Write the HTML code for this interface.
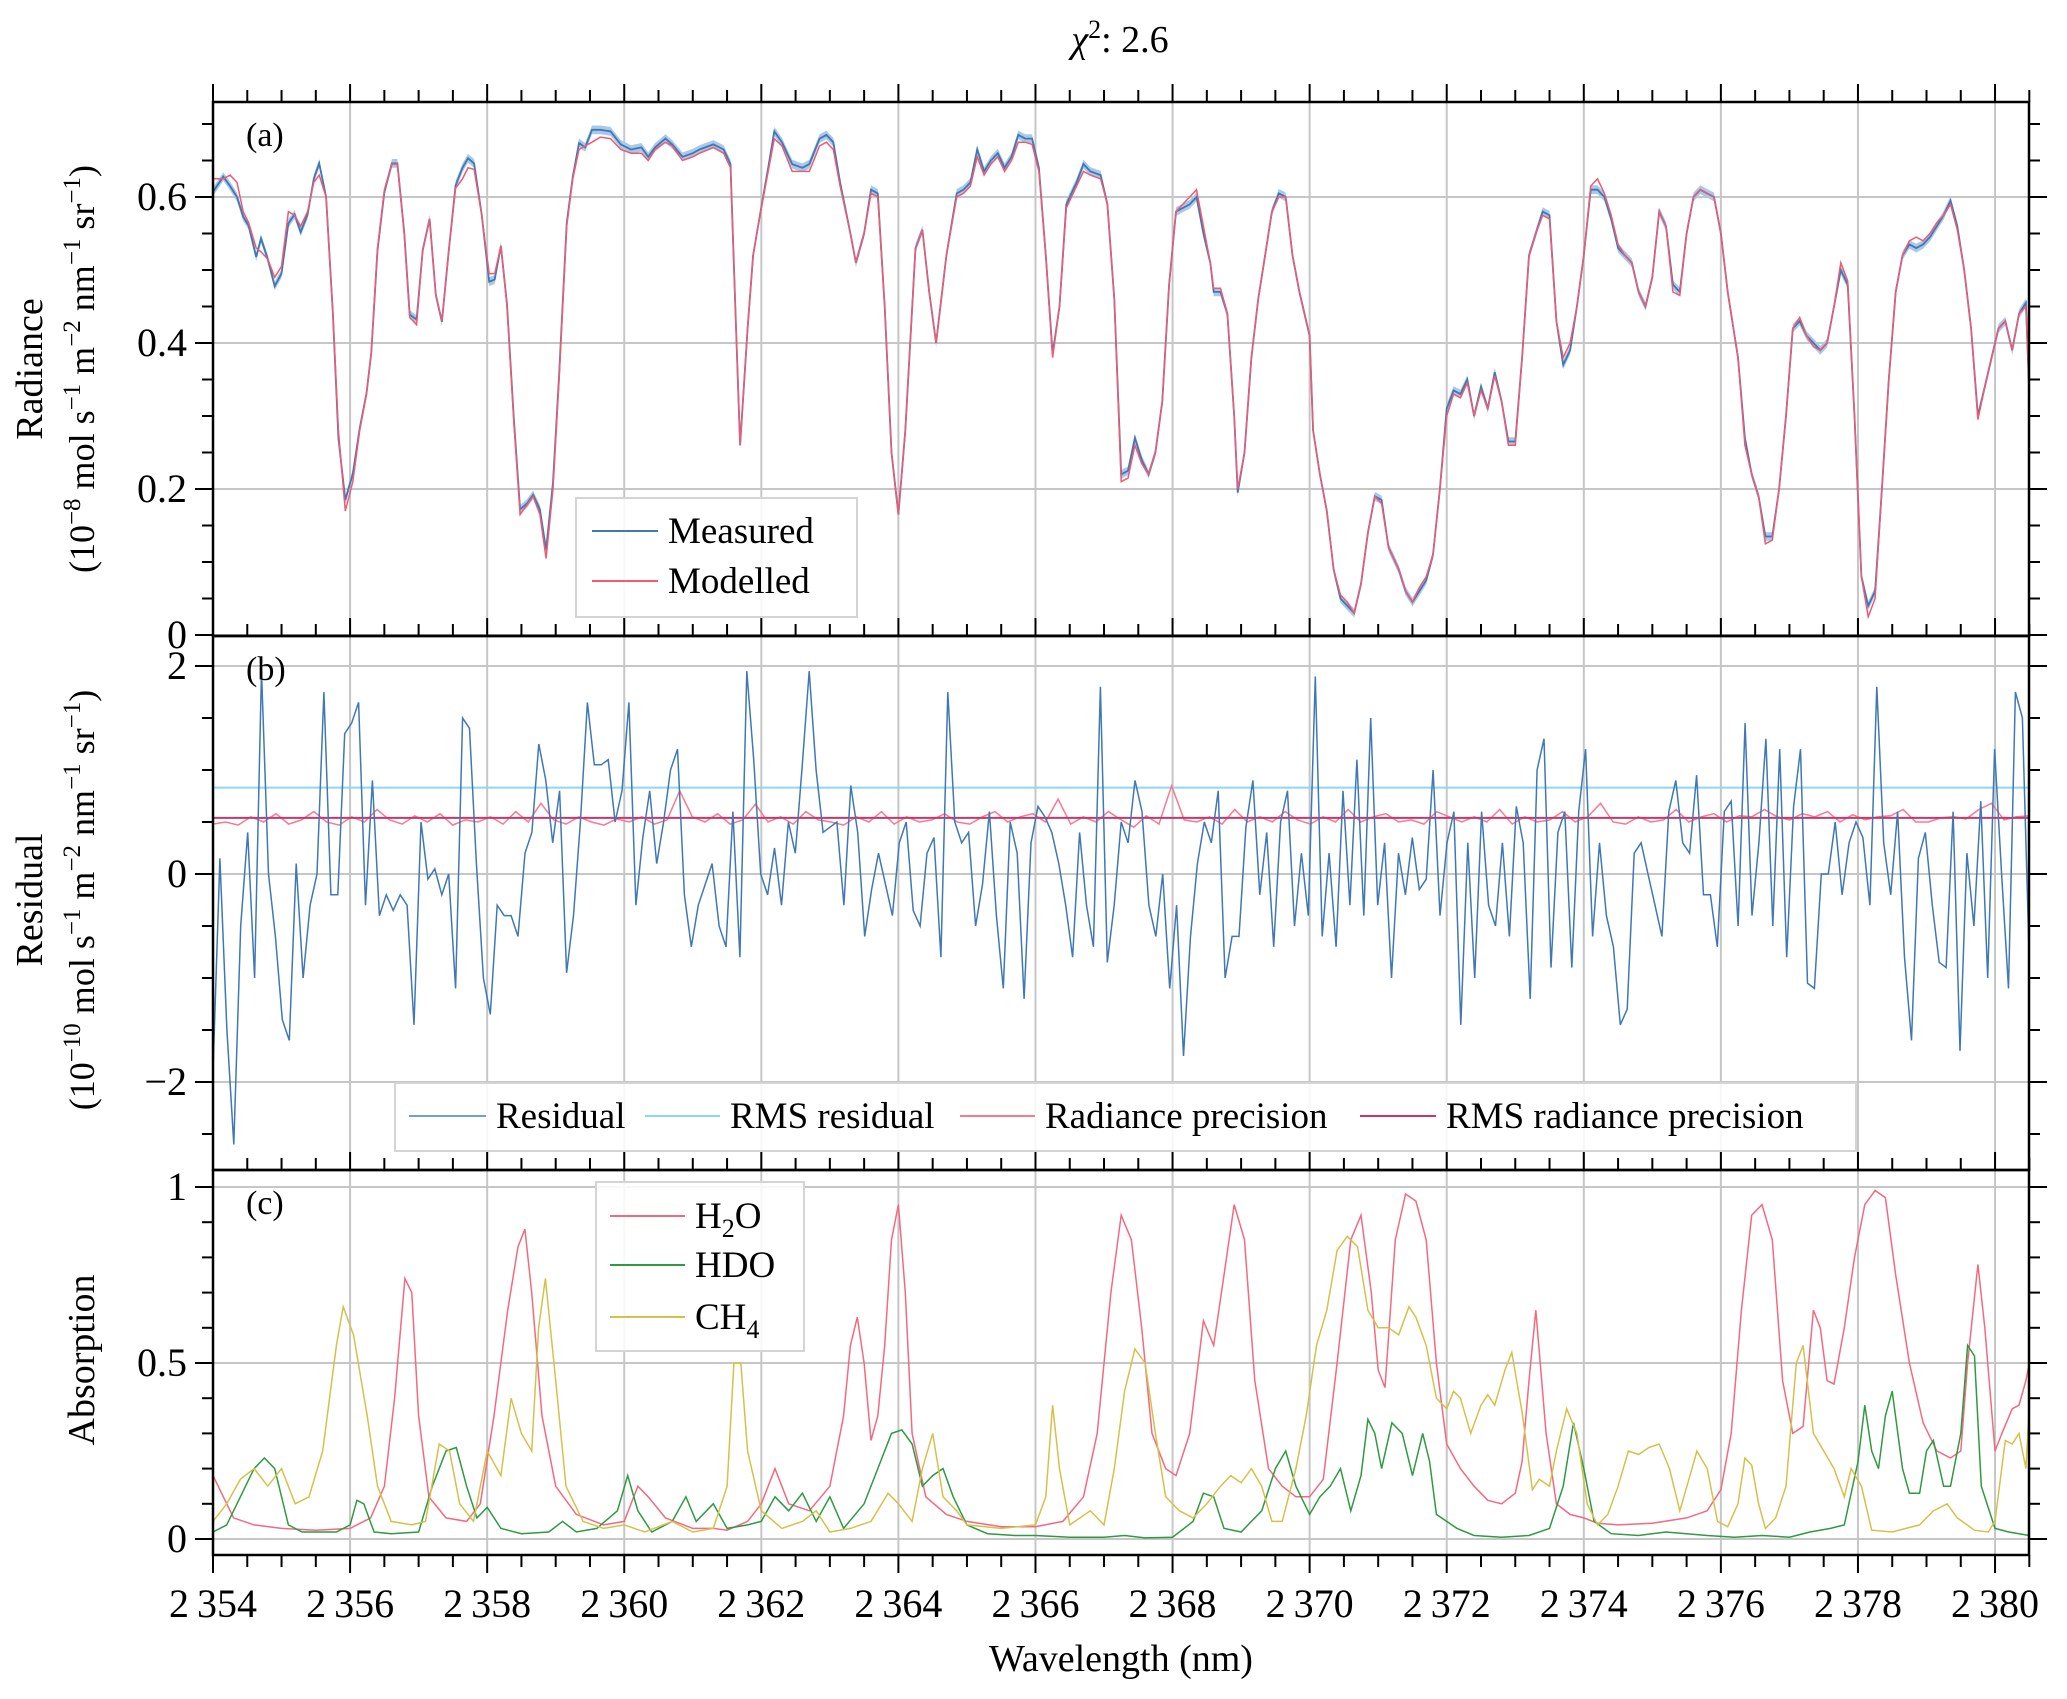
<!DOCTYPE html>
<html><head><meta charset="utf-8"><style>
html,body{margin:0;padding:0;background:#fff;}
svg{display:block;font-family:"Liberation Serif",serif;}
</style></head><body>
<svg id="chart" width="2067" height="1699" viewBox="0 0 2067 1699" xmlns="http://www.w3.org/2000/svg">
<g id="grid"></g>
<g id="series"></g>
<g id="axes"></g>
<g id="legends"></g>
<text x="1120" y="52" text-anchor="middle" font-size="38"><tspan font-style="italic">χ</tspan><tspan dy="-14" font-size="26">2</tspan><tspan dy="14">: 2.6</tspan></text>
<text text-anchor="middle" font-size="38" transform="translate(42,369) rotate(-90)">Radiance</text>
<text text-anchor="middle" font-size="36" transform="translate(94,369) rotate(-90)">(10<tspan dy="-14" font-size="25">−8</tspan><tspan dy="14"> mol s</tspan><tspan dy="-14" font-size="25">−1</tspan><tspan dy="14"> m</tspan><tspan dy="-14" font-size="25">−2</tspan><tspan dy="14"> nm</tspan><tspan dy="-14" font-size="25">−1</tspan><tspan dy="14"> sr</tspan><tspan dy="-14" font-size="25">−1</tspan><tspan dy="14">)</tspan></text>
<text text-anchor="middle" font-size="38" transform="translate(42,900) rotate(-90)">Residual</text>
<text text-anchor="middle" font-size="36" transform="translate(94,900) rotate(-90)">(10<tspan dy="-14" font-size="25">−10</tspan><tspan dy="14"> mol s</tspan><tspan dy="-14" font-size="25">−1</tspan><tspan dy="14"> m</tspan><tspan dy="-14" font-size="25">−2</tspan><tspan dy="14"> nm</tspan><tspan dy="-14" font-size="25">−1</tspan><tspan dy="14"> sr</tspan><tspan dy="-14" font-size="25">−1</tspan><tspan dy="14">)</tspan></text>
<text text-anchor="middle" font-size="38" transform="translate(94,1360) rotate(-90)">Absorption</text>
<text x="1121" y="1671" text-anchor="middle" font-size="38">Wavelength (nm)</text>
<text x="246" y="146" font-size="34">(a)</text>
<text x="246" y="680" font-size="34">(b)</text>
<text x="246" y="1214" font-size="34">(c)</text>
</svg>
<script>
// ---------- data ----------
const wlRad = [2354.0,2354.15,2354.25,2354.35,2354.44,2354.52,2354.63,2354.70,2354.80,2354.90,2355.0,2355.10,2355.19,2355.28,2355.38,2355.47,2355.55,2355.65,2355.75,2355.83,2355.93,2356.04,2356.14,2356.24,2356.31,2356.40,2356.50,2356.61,2356.69,2356.79,2356.87,2356.97,2357.06,2357.16,2357.25,2357.34,2357.44,2357.54,2357.64,2357.72,2357.81,2357.92,2358.03,2358.11,2358.20,2358.29,2358.39,2358.48,2358.58,2358.67,2358.77,2358.86,2358.96,2359.05,2359.16,2359.25,2359.34,2359.43,2359.53,2359.65,2359.8,2359.95,2360.1,2360.25,2360.35,2360.45,2360.6,2360.7,2360.85,2361.0,2361.1,2361.3,2361.45,2361.55,2361.62,2361.69,2361.8,2361.88,2361.97,2362.1,2362.19,2362.3,2362.45,2362.6,2362.7,2362.85,2362.95,2363.05,2363.15,2363.3,2363.38,2363.5,2363.6,2363.7,2363.8,2363.9,2364.0,2364.1,2364.25,2364.35,2364.45,2364.55,2364.7,2364.85,2364.95,2365.05,2365.15,2365.25,2365.35,2365.45,2365.55,2365.65,2365.75,2365.85,2365.95,2366.05,2366.15,2366.25,2366.35,2366.45,2366.6,2366.7,2366.8,2366.95,2367.05,2367.15,2367.25,2367.35,2367.45,2367.55,2367.65,2367.75,2367.85,2367.95,2368.05,2368.15,2368.25,2368.35,2368.45,2368.55,2368.6,2368.7,2368.8,2368.9,2368.95,2369.05,2369.15,2369.25,2369.35,2369.45,2369.55,2369.65,2369.75,2369.85,2370.0,2370.05,2370.15,2370.25,2370.35,2370.45,2370.55,2370.65,2370.75,2370.85,2370.95,2371.05,2371.15,2371.3,2371.4,2371.5,2371.6,2371.7,2371.8,2371.9,2372.0,2372.1,2372.2,2372.3,2372.4,2372.5,2372.6,2372.7,2372.8,2372.9,2373.0,2373.1,2373.2,2373.3,2373.4,2373.5,2373.6,2373.7,2373.8,2373.9,2374.0,2374.1,2374.2,2374.3,2374.4,2374.5,2374.6,2374.7,2374.8,2374.9,2375.0,2375.1,2375.2,2375.3,2375.4,2375.5,2375.6,2375.7,2375.8,2375.9,2376.0,2376.1,2376.25,2376.35,2376.45,2376.55,2376.65,2376.75,2376.85,2376.95,2377.05,2377.15,2377.25,2377.35,2377.45,2377.55,2377.65,2377.75,2377.85,2377.95,2378.05,2378.15,2378.25,2378.35,2378.45,2378.55,2378.65,2378.75,2378.85,2378.95,2379.05,2379.15,2379.25,2379.35,2379.45,2379.55,2379.65,2379.75,2379.85,2379.95,2380.05,2380.15,2380.25,2380.35,2380.45,2380.5];
const radMeasured = [.607,.628,.615,.60,.573,.561,.518,.543,.515,.478,.495,.564,.576,.552,.576,.625,.646,.60,.44,.27,.185,.221,.283,.331,.387,.527,.607,.646,.646,.552,.439,.432,.527,.570,.466,.429,.527,.616,.640,.653,.646,.576,.484,.487,.533,.453,.295,.172,.180,.192,.172,.117,.209,.356,.564,.628,.674,.668,.692,.692,.69,.672,.665,.668,.655,.668,.68,.672,.655,.66,.665,.672,.665,.645,.45,.26,.42,.52,.57,.64,.69,.675,.645,.64,.645,.68,.685,.675,.62,.55,.51,.55,.61,.605,.45,.25,.165,.28,.53,.555,.47,.40,.52,.605,.61,.62,.665,.635,.65,.66,.64,.655,.685,.68,.68,.64,.52,.385,.45,.59,.62,.645,.635,.63,.59,.46,.22,.225,.27,.24,.22,.25,.32,.48,.58,.585,.59,.60,.55,.51,.47,.47,.44,.30,.195,.25,.38,.46,.52,.58,.605,.60,.52,.47,.41,.28,.22,.17,.09,.05,.04,.03,.07,.14,.19,.185,.12,.09,.06,.045,.06,.075,.11,.20,.31,.335,.33,.35,.30,.34,.31,.36,.32,.265,.265,.38,.52,.55,.58,.575,.43,.37,.39,.45,.52,.61,.61,.60,.57,.53,.52,.51,.47,.45,.49,.58,.56,.48,.47,.55,.60,.61,.605,.60,.55,.47,.38,.27,.22,.19,.135,.135,.20,.30,.42,.43,.41,.40,.39,.40,.45,.50,.48,.30,.08,.04,.06,.20,.35,.47,.52,.535,.53,.535,.545,.56,.575,.595,.56,.50,.42,.30,.34,.38,.42,.43,.39,.44,.455,.33];
const radModelled = [.625,.625,.63,.62,.58,.565,.53,.525,.515,.49,.505,.58,.575,.56,.58,.62,.63,.60,.44,.28,.17,.21,.28,.33,.387,.53,.61,.645,.645,.55,.435,.425,.527,.57,.466,.43,.527,.612,.625,.64,.638,.575,.495,.495,.533,.45,.29,.165,.178,.19,.165,.105,.2,.35,.56,.625,.665,.67,.675,.682,.68,.665,.66,.66,.65,.665,.675,.67,.65,.655,.66,.668,.66,.64,.45,.26,.42,.52,.57,.635,.68,.67,.635,.635,.635,.67,.675,.665,.615,.55,.51,.55,.605,.60,.45,.25,.165,.28,.53,.555,.47,.40,.52,.60,.605,.615,.655,.63,.645,.655,.635,.65,.675,.675,.672,.635,.52,.38,.45,.585,.615,.635,.63,.625,.59,.46,.21,.215,.26,.235,.22,.25,.32,.48,.58,.59,.60,.61,.56,.51,.475,.475,.44,.30,.2,.25,.38,.46,.52,.58,.60,.60,.52,.47,.41,.28,.22,.17,.09,.055,.045,.03,.07,.14,.19,.18,.12,.09,.06,.045,.065,.08,.11,.20,.30,.33,.325,.345,.30,.335,.31,.355,.32,.26,.26,.38,.52,.55,.575,.57,.43,.38,.40,.45,.52,.615,.625,.605,.575,.535,.52,.51,.47,.45,.49,.58,.56,.47,.465,.55,.60,.61,.605,.60,.55,.47,.38,.26,.22,.19,.125,.13,.20,.30,.42,.435,.41,.395,.39,.40,.45,.51,.485,.30,.08,.025,.05,.20,.35,.47,.52,.54,.545,.54,.55,.565,.575,.59,.555,.50,.42,.295,.34,.38,.42,.43,.39,.44,.45,.33];

const residualStart = 2354.0;
const residualEnd = 2380.5;
const residual = [-1.9,0.15,-1.5,-2.6,-0.5,0.4,-1.0,1.95,0.0,-0.6,-1.4,-1.6,0.1,-1.0,-0.3,0.0,1.75,-0.2,-0.2,1.35,1.45,1.65,-0.3,0.9,-0.4,-0.2,-0.35,-0.2,-0.3,-1.45,0.5,-0.05,0.05,-0.2,0.0,-1.1,1.5,1.4,0.1,-1.0,-1.35,-0.3,-0.4,-0.4,-0.6,0.2,0.4,1.25,0.9,0.3,0.8,-0.95,-0.4,0.5,1.65,1.05,1.05,1.1,0.5,0.8,1.65,-0.3,0.35,0.8,0.1,0.5,1.0,1.2,-0.2,-0.7,-0.3,-0.1,0.1,-0.5,-0.7,0.6,-0.8,1.95,1.1,0.0,-0.2,0.25,-0.3,0.5,0.2,1.05,1.95,1.0,0.4,0.45,0.5,-0.3,0.85,0.4,-0.6,-0.15,0.2,-0.1,-0.4,0.3,0.5,-0.35,-0.5,0.2,0.35,-0.8,1.75,0.5,0.3,0.4,-0.5,-0.1,0.6,-0.4,-1.1,0.5,0.2,-1.2,0.3,0.65,0.55,0.4,0.1,-0.3,-0.8,0.4,-0.3,-0.7,1.8,-0.85,-0.3,0.5,0.3,0.9,0.6,-0.3,-0.6,0.0,-1.1,-0.3,-1.75,-0.6,0.1,0.5,0.3,0.8,-1.0,-0.6,-0.6,0.45,0.9,-0.2,0.4,-0.7,0.5,0.8,-0.5,0.2,-0.4,1.9,-0.6,0.2,-0.7,0.8,-0.3,1.1,-0.4,1.5,-0.3,0.3,-1.0,0.2,-0.2,0.35,-0.15,-0.05,1.0,-0.4,0.3,0.6,-1.45,0.3,-1.0,0.6,-0.3,-0.5,0.3,-0.6,0.65,0.3,-1.2,1.0,1.3,-0.9,0.4,0.6,-0.9,0.6,1.2,-0.6,0.3,-0.4,-0.7,-1.45,-1.3,0.2,0.3,0.0,-0.3,-0.6,0.6,0.9,0.3,0.2,0.95,-0.2,-0.2,-0.7,0.6,0.7,-0.5,1.45,-0.4,0.3,1.3,-0.5,1.2,-0.8,0.65,1.2,-1.05,-1.1,0.0,0.0,0.5,-0.2,0.3,0.5,0.35,-0.3,1.8,0.3,-0.2,0.6,-0.8,-1.6,0.15,0.4,-0.3,-0.85,-0.9,0.6,-1.7,0.2,-0.5,0.7,-1.0,1.2,0.0,-1.1,1.75,1.5,-0.85];
const precision = [0.48,0.5,0.47,0.55,0.5,0.58,0.48,0.52,0.6,0.5,0.47,0.55,0.5,0.62,0.52,0.48,0.56,0.5,0.58,0.47,0.52,0.5,0.55,0.48,0.6,0.5,0.68,0.52,0.48,0.55,0.5,0.47,0.53,0.5,0.55,0.48,0.52,0.8,0.55,0.5,0.58,0.48,0.52,0.67,0.5,0.55,0.48,0.6,0.52,0.5,0.47,0.55,0.5,0.6,0.48,0.55,0.5,0.52,0.58,0.5,0.48,0.55,0.6,0.5,0.55,0.58,0.5,0.72,0.48,0.55,0.5,0.6,0.52,0.45,0.56,0.48,0.85,0.52,0.5,0.55,0.48,0.62,0.5,0.55,0.5,0.6,0.52,0.48,0.55,0.5,0.62,0.5,0.55,0.58,0.5,0.52,0.48,0.6,0.55,0.5,0.55,0.5,0.62,0.48,0.55,0.5,0.52,0.6,0.5,0.55,0.68,0.5,0.48,0.55,0.5,0.52,0.62,0.5,0.55,0.58,0.5,0.56,0.55,0.62,0.55,0.52,0.58,0.55,0.6,0.5,0.57,0.52,0.55,0.56,0.62,0.5,0.5,0.54,0.55,0.53,0.62,0.68,0.52,0.55,0.56];
const rmsResidual = 0.83;
const rmsPrecision = 0.54;

const wlH2O = [2354.0,2354.3,2354.6,2355.0,2355.5,2356.0,2356.3,2356.5,2356.65,2356.8,2356.9,2357.0,2357.15,2357.4,2357.7,2357.9,2358.1,2358.3,2358.45,2358.55,2358.65,2358.8,2359.0,2359.3,2359.7,2360.0,2360.2,2360.35,2360.6,2361.0,2361.3,2361.5,2361.8,2362.0,2362.2,2362.4,2362.7,2363.0,2363.2,2363.3,2363.4,2363.5,2363.6,2363.7,2363.8,2363.9,2364.0,2364.1,2364.2,2364.4,2364.7,2365.0,2365.5,2366.0,2366.4,2366.7,2366.9,2367.1,2367.25,2367.4,2367.55,2367.7,2367.9,2368.05,2368.25,2368.45,2368.6,2368.75,2368.9,2369.05,2369.2,2369.4,2369.6,2369.8,2370.0,2370.2,2370.4,2370.6,2370.75,2370.9,2371.0,2371.1,2371.25,2371.4,2371.55,2371.7,2371.85,2372.0,2372.2,2372.4,2372.6,2372.8,2373.0,2373.1,2373.2,2373.3,2373.45,2373.6,2373.8,2374.0,2374.2,2374.5,2375.0,2375.5,2375.8,2376.0,2376.15,2376.3,2376.45,2376.6,2376.75,2376.9,2377.05,2377.2,2377.35,2377.45,2377.55,2377.65,2377.8,2377.95,2378.1,2378.25,2378.4,2378.55,2378.75,2378.95,2379.15,2379.35,2379.5,2379.6,2379.75,2379.85,2380.0,2380.1,2380.25,2380.35,2380.45,2380.5];
const absH2O = [0.18,0.06,0.04,0.03,0.025,0.03,0.06,0.15,0.4,0.74,0.7,0.35,0.12,0.06,0.05,0.1,0.35,0.65,0.83,0.88,0.7,0.35,0.15,0.07,0.04,0.05,0.15,0.12,0.06,0.03,0.03,0.025,0.05,0.1,0.2,0.1,0.08,0.15,0.35,0.55,0.63,0.5,0.28,0.35,0.55,0.85,0.95,0.7,0.3,0.12,0.07,0.05,0.035,0.035,0.05,0.12,0.3,0.7,0.92,0.85,0.6,0.3,0.2,0.18,0.3,0.62,0.55,0.75,0.95,0.85,0.45,0.2,0.15,0.12,0.12,0.17,0.5,0.85,0.92,0.7,0.48,0.43,0.85,0.98,0.96,0.85,0.5,0.27,0.2,0.15,0.11,0.1,0.13,0.22,0.45,0.65,0.3,0.1,0.07,0.06,0.045,0.04,0.045,0.06,0.08,0.14,0.3,0.65,0.92,0.95,0.85,0.45,0.3,0.32,0.65,0.6,0.45,0.44,0.6,0.8,0.95,0.99,0.97,0.75,0.5,0.33,0.25,0.23,0.25,0.5,0.78,0.6,0.25,0.3,0.37,0.38,0.45,0.5];
const wlHDO = [2354.0,2354.2,2354.4,2354.6,2354.75,2354.9,2355.1,2355.3,2355.6,2355.8,2356.0,2356.1,2356.2,2356.35,2356.6,2357.0,2357.2,2357.4,2357.55,2357.7,2357.85,2358.0,2358.2,2358.5,2358.9,2359.1,2359.3,2359.6,2359.9,2360.05,2360.2,2360.4,2360.7,2360.9,2361.05,2361.3,2361.5,2361.8,2362.0,2362.2,2362.4,2362.6,2362.8,2363.0,2363.2,2363.5,2363.7,2363.9,2364.05,2364.2,2364.35,2364.5,2364.65,2364.8,2365.0,2365.3,2365.7,2366.0,2366.5,2367.0,2367.3,2367.6,2368.0,2368.3,2368.45,2368.6,2368.75,2369.0,2369.3,2369.5,2369.65,2369.8,2370.0,2370.15,2370.3,2370.45,2370.6,2370.75,2370.85,2370.95,2371.05,2371.2,2371.35,2371.5,2371.65,2371.75,2371.85,2372.0,2372.15,2372.4,2372.8,2373.2,2373.5,2373.7,2373.85,2374.0,2374.15,2374.4,2374.8,2375.2,2375.5,2375.8,2376.2,2376.6,2377.0,2377.3,2377.6,2377.8,2378.0,2378.1,2378.2,2378.3,2378.4,2378.5,2378.65,2378.75,2378.9,2379.0,2379.1,2379.25,2379.35,2379.5,2379.6,2379.7,2379.8,2380.0,2380.2,2380.5];
const absHDO = [0.02,0.04,0.12,0.2,0.23,0.2,0.04,0.02,0.02,0.02,0.04,0.11,0.1,0.02,0.015,0.02,0.15,0.25,0.26,0.15,0.06,0.09,0.03,0.015,0.02,0.05,0.02,0.03,0.08,0.18,0.08,0.02,0.05,0.12,0.05,0.1,0.03,0.04,0.05,0.12,0.08,0.13,0.05,0.12,0.03,0.1,0.2,0.3,0.31,0.27,0.15,0.18,0.2,0.12,0.04,0.015,0.01,0.01,0.005,0.005,0.01,0.003,0.005,0.05,0.13,0.12,0.03,0.02,0.08,0.2,0.25,0.15,0.07,0.12,0.15,0.2,0.08,0.18,0.34,0.3,0.2,0.33,0.3,0.18,0.3,0.22,0.07,0.05,0.03,0.01,0.005,0.01,0.03,0.15,0.33,0.2,0.05,0.015,0.01,0.02,0.015,0.01,0.005,0.01,0.005,0.02,0.03,0.04,0.22,0.38,0.25,0.2,0.35,0.42,0.2,0.13,0.13,0.25,0.28,0.15,0.15,0.3,0.55,0.52,0.15,0.03,0.02,0.01];
const wlCH4 = [2354.0,2354.2,2354.4,2354.6,2354.8,2355.0,2355.2,2355.4,2355.6,2355.8,2355.9,2356.05,2356.25,2356.4,2356.6,2356.9,2357.1,2357.3,2357.45,2357.6,2357.8,2358.0,2358.2,2358.35,2358.5,2358.65,2358.75,2358.85,2359.0,2359.15,2359.4,2359.7,2360.0,2360.3,2360.7,2361.0,2361.3,2361.5,2361.6,2361.7,2361.8,2362.0,2362.3,2362.6,2362.8,2363.0,2363.3,2363.6,2363.85,2364.0,2364.2,2364.35,2364.5,2364.65,2364.85,2365.0,2365.5,2366.0,2366.15,2366.25,2366.35,2366.5,2366.8,2367.0,2367.15,2367.3,2367.45,2367.6,2367.75,2367.9,2368.1,2368.3,2368.5,2368.7,2368.85,2369.0,2369.15,2369.3,2369.45,2369.6,2369.8,2369.95,2370.1,2370.25,2370.4,2370.55,2370.7,2370.85,2371.0,2371.15,2371.3,2371.45,2371.55,2371.7,2371.85,2372.0,2372.1,2372.2,2372.35,2372.5,2372.6,2372.7,2372.85,2372.95,2373.1,2373.25,2373.35,2373.5,2373.6,2373.75,2373.9,2374.05,2374.2,2374.35,2374.5,2374.65,2374.8,2374.95,2375.1,2375.25,2375.4,2375.55,2375.65,2375.8,2375.95,2376.1,2376.25,2376.35,2376.45,2376.55,2376.65,2376.8,2376.95,2377.1,2377.2,2377.35,2377.5,2377.65,2377.8,2377.9,2378.05,2378.2,2378.5,2378.7,2378.9,2379.1,2379.3,2379.45,2379.7,2379.9,2380.0,2380.15,2380.25,2380.35,2380.45,2380.5];
const absCH4 = [0.05,0.1,0.17,0.2,0.15,0.2,0.1,0.12,0.25,0.55,0.66,0.58,0.35,0.15,0.05,0.04,0.05,0.27,0.25,0.1,0.05,0.25,0.18,0.4,0.3,0.25,0.6,0.74,0.45,0.15,0.05,0.03,0.04,0.02,0.05,0.02,0.03,0.15,0.5,0.5,0.25,0.08,0.03,0.05,0.08,0.02,0.03,0.05,0.13,0.1,0.05,0.2,0.3,0.12,0.08,0.04,0.03,0.04,0.12,0.38,0.2,0.04,0.08,0.04,0.2,0.42,0.54,0.5,0.3,0.12,0.08,0.06,0.1,0.15,0.18,0.16,0.2,0.15,0.05,0.05,0.2,0.35,0.55,0.65,0.82,0.86,0.83,0.65,0.6,0.6,0.58,0.66,0.63,0.55,0.4,0.37,0.42,0.4,0.3,0.38,0.41,0.38,0.48,0.53,0.36,0.14,0.17,0.15,0.25,0.37,0.3,0.1,0.04,0.07,0.15,0.25,0.24,0.26,0.27,0.2,0.08,0.18,0.25,0.2,0.05,0.035,0.1,0.23,0.21,0.1,0.03,0.06,0.15,0.5,0.55,0.3,0.25,0.2,0.12,0.2,0.15,0.025,0.02,0.03,0.04,0.08,0.1,0.06,0.025,0.02,0.05,0.28,0.27,0.3,0.2,0.38];

const xTicks = [2354,2356,2358,2360,2362,2364,2366,2368,2370,2372,2374,2376,2378,2380];
const xTickLabels = ["2\u2009354","2\u2009356","2\u2009358","2\u2009360","2\u2009362","2\u2009364","2\u2009366","2\u2009368","2\u2009370","2\u2009372","2\u2009374","2\u2009376","2\u2009378","2\u2009380"];
const yTicksA = [0,0.2,0.4,0.6];
const yTickLabelsA = ["0","0.2","0.4","0.6"];
const yTicksB = [-2,0,2];
const yTickLabelsB = ["\u22122","0","2"];
const yTicksC = [0,0.5,1];
const yTickLabelsC = ["0","0.5","1"];

// ---------- layout ----------
const L = 213, R = 2029;
const X = nm => L + (nm - 2354) * 68.54;
const PA = {top:102, bot:636, y:v => 635 - v*730};
const PB = {top:636, bot:1170, y:v => 874 - v*104};
const PC = {top:1170, bot:1555, y:v => 1539 - v*352};
const NS = "http://www.w3.org/2000/svg";
const gGrid = document.getElementById('grid'), gSer = document.getElementById('series'), gAx = document.getElementById('axes'), gLeg = document.getElementById('legends');
function mk(tag, attrs, parent){const e=document.createElementNS(NS,tag);for(const k in attrs)e.setAttribute(k,attrs[k]);parent.appendChild(e);return e;}
function line(x1,y1,x2,y2,stroke,w,parent){return mk('line',{x1,y1,x2,y2,stroke,'stroke-width':w},parent);}
function pathFrom(xs, ys, P){return xs.map((x,i)=>(i?'L':'M')+X(x).toFixed(1)+','+P.y(ys[i]).toFixed(1)).join('');}

// grids
const gridCol = '#c6c6c6';
[PA,PB,PC].forEach(P=>{
  xTicks.forEach(t=>{const l=line(X(t),P.top,X(t),P.bot,gridCol,2,gGrid);
    
    });
});
[[PA,yTicksA],[PB,yTicksB],[PC,yTicksC]].forEach(([P,ts])=>{
  ts.forEach(t=>{const l=line(L,P.y(t),R,P.y(t),gridCol,2,gGrid);
    
    });
});

// panel a series
const lowBand = radMeasured.map(v=>v-0.006), highBand = radMeasured.map(v=>v+0.006);
let bandD = wlRad.map((x,i)=>(i?'L':'M')+X(x).toFixed(1)+','+PA.y(highBand[i]).toFixed(1)).join('');
for(let i=wlRad.length-1;i>=0;i--) bandD += 'L'+X(wlRad[i]).toFixed(1)+','+PA.y(lowBand[i]).toFixed(1);
const band = mk('path',{d:bandD+'Z',fill:'#a9c9e8',stroke:'none'},gSer);


const meas = mk('path',{d:pathFrom(wlRad,radMeasured,PA),fill:'none',stroke:'#3f78b4','stroke-width':1.8},gSer);


const mod = mk('path',{d:pathFrom(wlRad,radModelled,PA),fill:'none',stroke:'#f05a72','stroke-width':1.5},gSer);



// panel b
const rStep = (residualEnd-residualStart)/(residual.length-1);
const wlRes = residual.map((_,i)=>residualStart+i*rStep);
const pStep = (residualEnd-residualStart)/(precision.length-1);
const wlPrec = precision.map((_,i)=>residualStart+i*pStep);
const rmsR = line(L,PB.y(rmsResidual),R,PB.y(rmsResidual),'#8fd6f0',2,gSer);


const prec = mk('path',{d:pathFrom(wlPrec,precision,PB),fill:'none',stroke:'#f67a90','stroke-width':1.5},gSer);


const rmsP = line(L,PB.y(rmsPrecision),R,PB.y(rmsPrecision),'#c7376d',2,gSer);


const res = mk('path',{d:pathFrom(wlRes,residual,PB),fill:'none',stroke:'#3f78b4','stroke-width':1.5},gSer);



// panel c
const h2o = mk('path',{d:pathFrom(wlH2O,absH2O,PC),fill:'none',stroke:'#f26a80','stroke-width':1.5},gSer);


const hdo = mk('path',{d:pathFrom(wlHDO,absHDO,PC),fill:'none',stroke:'#2f9a42','stroke-width':1.5},gSer);


const ch4 = mk('path',{d:pathFrom(wlCH4,absCH4,PC),fill:'none',stroke:'#d6c04c','stroke-width':1.5},gSer);



// axes frames & ticks
[PA,PB,PC].forEach(P=>{
  const f = mk('rect',{x:L,y:P.top,width:R-L,height:P.bot-P.top,fill:'none',stroke:'#000','stroke-width':2.5},gAx);
  
  
  for(let nm=2354; nm<=2380.5; nm+=0.5){
    const major = Math.abs(nm%2)<1e-6;
    const len = major?18:12;
    line(X(nm),P.top,X(nm),P.top-len,'#000',2,gAx);
  }
});
for(let nm=2354; nm<=2380.5; nm+=0.5){
  const major = Math.abs(nm%2)<1e-6;
  line(X(nm),PC.bot,X(nm),PC.bot+(major?18:12),'#000',2,gAx);
}
function yTicks(P,min,max,minorStep,majors,labels){
  for(let v=min; v<=max+1e-9; v+=minorStep){
    const isMaj = majors.some(m=>Math.abs(m-v)<1e-6);
    const y=P.y(v); if(y<P.top-1||y>P.bot+1) continue;
    const len=isMaj?18:11;
    line(L,y,L-len,y,'#000',2,gAx);
    line(R,y,R+len,y,'#000',2,gAx);
  }
  majors.forEach((m,i)=>{
    const t=mk('text',{x:L-26,y:P.y(m)+13,'text-anchor':'end','font-size':40},gAx);
    t.textContent=labels[i];
    
    
  });
}
yTicks(PA,0,0.7,0.05,yTicksA,yTickLabelsA);
yTicks(PB,-2.5,2,0.5,yTicksB,yTickLabelsB);
yTicks(PC,0,1,0.1,yTicksC,yTickLabelsC);
xTicks.forEach((t,i)=>{
  const e=mk('text',{x:X(t),y:1617,'text-anchor':'middle','font-size':40},gAx);
  e.textContent=xTickLabels[i];
  
  
});

// legends
function legendBox(x,y,w,h,name){
  const r=mk('rect',{x,y,width:w,height:h,fill:'#fff','fill-opacity':0.85,stroke:'#d4d4d4','stroke-width':2},gLeg);
  
  
}
function legendEntry(x1,x2,y,color,label,name,sub){
  const l=line(x1,y,x2,y,color,2,gLeg);
  
  
  const t=mk('text',{x:x2+10,y:y+12,'font-size':37},gLeg);
  if(sub){t.innerHTML=label[0]+'<tspan dy="9" font-size="26">'+label[1]+'</tspan><tspan dy="-9">'+label[2]+'</tspan>';}
  else t.textContent=label;
  
  
}
legendBox(576,498,281,119,'legend-radiance');
legendEntry(592,658,531,'#3f78b4','Measured','legend-entry-measured');
legendEntry(592,658,581,'#f05a72','Modelled','legend-entry-modelled');
legendBox(395,1083,1461,68,'legend-residual');
legendEntry(409,486,1116,'#6f9fcf','Residual','legend-entry-residual');
legendEntry(645,720,1116,'#8fd6f0','RMS residual','legend-entry-rms-residual');
legendEntry(960,1035,1116,'#f67a90','Radiance precision','legend-entry-radiance-precision');
legendEntry(1360,1436,1116,'#c7376d','RMS radiance precision','legend-entry-rms-radiance-precision');
legendBox(596,1182,208,169,'legend-absorption');
legendEntry(610,685,1216,'#f26a80',['H','2','O'],'legend-entry-h2o',true);
legendEntry(610,685,1265,'#2f9a42','HDO','legend-entry-hdo');
legendEntry(610,685,1317,'#d6c04c',['CH','4',''],'legend-entry-ch4',true);
</script>
</body></html>
